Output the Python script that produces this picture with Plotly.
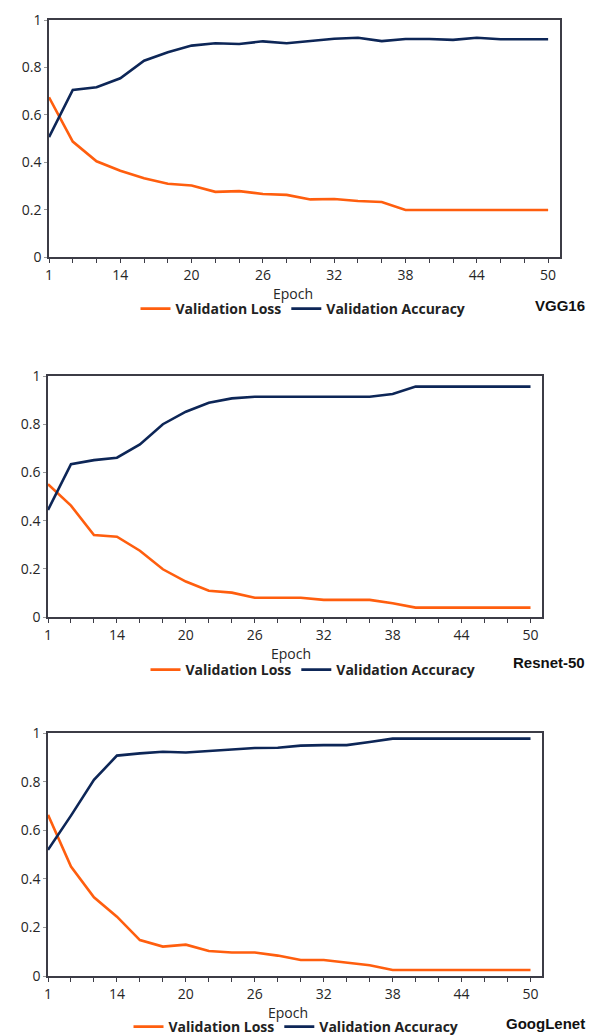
import plotly.graph_objects as go

# ---------------- data ----------------
epochs = ["1", "10", "12", "14", "16", "18", "20", "22", "24", "26", "28",
          "30", "32", "34", "36", "38", "40", "42", "44", "46", "48", "50"]
tick_labels = ["1", "14", "20", "26", "32", "38", "44", "50"]
y_ticks = [0, 0.2, 0.4, 0.6, 0.8, 1]
y_tick_labels = ["0", "0.2", "0.4", "0.6", "0.8", "1"]

vgg16_loss = [0.674, 0.487, 0.404, 0.364, 0.332, 0.309, 0.302, 0.275, 0.278, 0.266, 0.262,
              0.243, 0.245, 0.236, 0.232, 0.198, 0.198, 0.198, 0.198, 0.198, 0.198, 0.198]
vgg16_acc = [0.506, 0.705, 0.716, 0.754, 0.828, 0.864, 0.892, 0.902, 0.899, 0.910, 0.902,
             0.910, 0.921, 0.925, 0.911, 0.920, 0.920, 0.916, 0.925, 0.919, 0.919, 0.919]

resnet_loss = [0.551, 0.462, 0.340, 0.333, 0.275, 0.198, 0.147, 0.109, 0.101, 0.080, 0.080,
               0.080, 0.071, 0.071, 0.071, 0.057, 0.039, 0.039, 0.039, 0.039, 0.039, 0.039]
resnet_acc = [0.444, 0.634, 0.651, 0.661, 0.716, 0.800, 0.852, 0.889, 0.907, 0.914, 0.914,
              0.914, 0.914, 0.914, 0.914, 0.925, 0.956, 0.956, 0.956, 0.956, 0.956, 0.956]

googlenet_loss = [0.663, 0.450, 0.324, 0.244, 0.148, 0.121, 0.129, 0.103, 0.097, 0.097, 0.084,
                  0.066, 0.066, 0.056, 0.044, 0.025, 0.025, 0.025, 0.025, 0.025, 0.025, 0.025]
googlenet_acc = [0.519, 0.660, 0.807, 0.907, 0.916, 0.923, 0.920, 0.926, 0.931, 0.938, 0.939,
                 0.948, 0.950, 0.950, 0.963, 0.977, 0.977, 0.977, 0.977, 0.977, 0.977, 0.977]

models = ["VGG16", "Resnet-50", "GoogLenet"]
series_names = ["Validation Loss", "Validation Accuracy"]

# ---------------- style ----------------
ORANGE = "#FF5E0E"
NAVY = "#0D2657"
AXIS_COLOR = "#3C3C46"
TEXT_COLOR = "#262626"
FONT = "Open Sans"

W, H = 595, 1036

# panel geometry in pixels: (left, right, top, bottom), legend center (x,y), epoch label, model label y
panels = [
    dict(px=(49, 560, 20, 257), leg=(303, 309), ep=(293, 293), name_y=305),
    dict(px=(48, 542, 376, 617), leg=(313, 670), ep=(291, 653), name_y=662),
    dict(px=(48, 542, 733, 976), leg=(296, 1027), ep=(288, 1012), name_y=1023),
]
data_sets = [(vgg16_loss, vgg16_acc), (resnet_loss, resnet_acc), (googlenet_loss, googlenet_acc)]

fig = go.Figure()
layout = dict(
    width=W, height=H, margin=dict(l=0, r=0, t=0, b=0, autoexpand=False),
    paper_bgcolor="white", plot_bgcolor="white",
    font=dict(family=FONT, color=TEXT_COLOR, size=14),
    annotations=[],
)

full_ticktext = [e if e in tick_labels else "" for e in epochs]

for i, (p, (loss, acc)) in enumerate(zip(panels, data_sets)):
    n = "" if i == 0 else str(i + 1)
    l, r, t, b = p["px"]
    leg_name = "legend" + n
    for vals, name, color in [(loss, series_names[0], ORANGE), (acc, series_names[1], NAVY)]:
        fig.add_trace(go.Scatter(
            x=epochs, y=vals, mode="lines", name=name,
            line=dict(color=color, width=2.6),
            xaxis="x" + n, yaxis="y" + n, legend=leg_name, showlegend=True,
        ))
    layout["xaxis" + n] = dict(
        domain=[l / W, r / W], anchor="y" + n, type="category",
        categoryorder="array", categoryarray=epochs,
        range=[0, 21.5], automargin=False,
        tickmode="array", tickvals=epochs, ticktext=full_ticktext,
        ticks="outside", ticklen=4, tickwidth=1.2, tickcolor=AXIS_COLOR,
        showline=True, linecolor=AXIS_COLOR, linewidth=1.6, mirror=True,
        showgrid=False, zeroline=False,
        tickfont=dict(size=14, color=TEXT_COLOR),
    )
    layout["yaxis" + n] = dict(
        domain=[1 - b / H, 1 - t / H], anchor="x" + n,
        range=[0, 1], automargin=False,
        tickmode="array", tickvals=y_ticks, ticktext=y_tick_labels,
        ticks="outside", ticklen=3, tickwidth=1, tickcolor="#999999",
        showline=True, linecolor=AXIS_COLOR, linewidth=1.6, mirror=True,
        showgrid=False, zeroline=False,
        tickfont=dict(size=14, color=TEXT_COLOR),
    )
    layout[leg_name] = dict(
        orientation="h", x=p["leg"][0] / W, xanchor="center",
        y=1 - p["leg"][1] / H, yanchor="middle",
        font=dict(family=FONT, size=14, color="#222222", weight="bold"),
        bgcolor="rgba(0,0,0,0)", itemwidth=30, tracegroupgap=0,
    )
    layout["annotations"].append(dict(
        text="Epoch", x=p["ep"][0] / W, y=1 - p["ep"][1] / H,
        xref="paper", yref="paper", xanchor="center", yanchor="middle",
        showarrow=False, font=dict(family=FONT, size=14, color=TEXT_COLOR),
    ))
    layout["annotations"].append(dict(
        text=models[i], x=587 / W, y=1 - p["name_y"] / H,
        xref="paper", yref="paper", xanchor="right", yanchor="middle",
        showarrow=False, font=dict(family="Liberation Sans", size=15, color="#111111", weight="bold"),
    ))

fig.update_layout(**layout)
fig.write_html(
    "out.html",
    config={"displayModeBar": False},
    post_script="document.body.style.margin='0';document.body.style.overflow='hidden';",
)
